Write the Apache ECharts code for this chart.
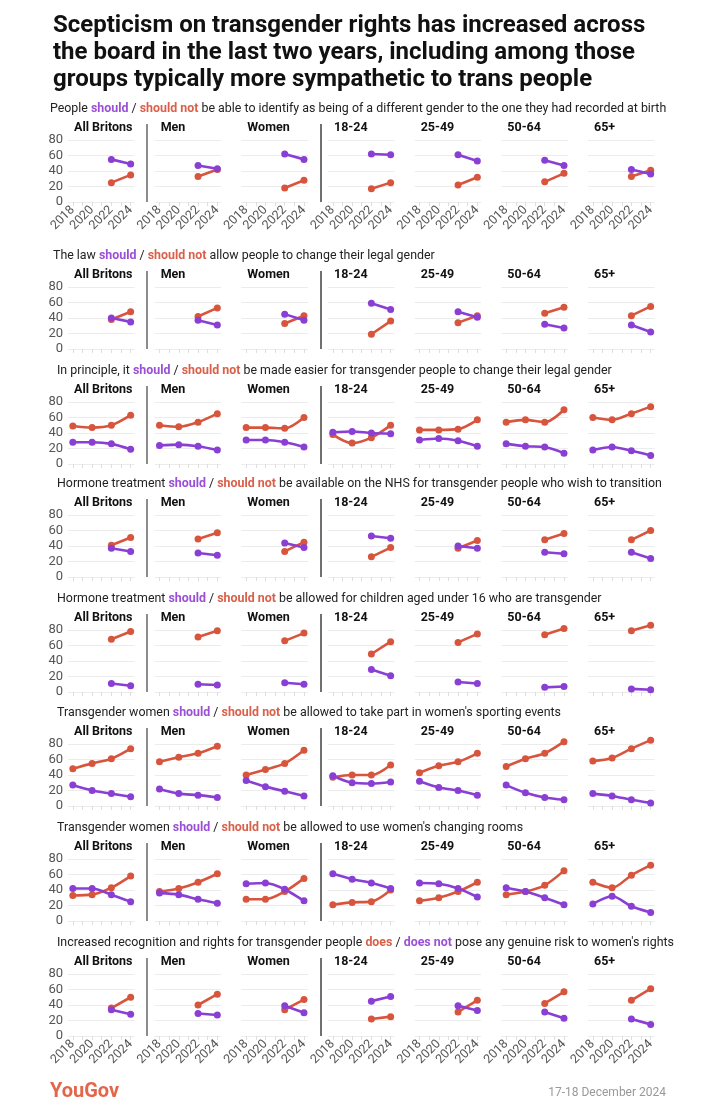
<!DOCTYPE html>
<html>
<head>
<meta charset="utf-8">
<script src="https://cdn.jsdelivr.net/npm/echarts@6/dist/echarts.min.js"></script>
<style>
  html, body { margin: 0; padding: 0; background: #fff; }
  #chart { width: 717px; height: 1112px; }
</style>
</head>
<body>
<div id="chart"></div>
<script>
var groups = ['All Britons', 'Men', 'Women', '18-24', '25-49', '50-64', '65+'];
var yearsShort = [2022, 2024];
var yearsLong = [2018, 2020, 2022, 2024];
var xTickLabels = [2018, 2020, 2022, 2024];
var xTickMarks = [2018, 2019, 2020, 2021, 2022, 2023, 2024];

var questions = [
    'People {p|should} / {o|should not} be able to identify as being of a different gender to the one they had recorded at birth',
    'The law {p|should} / {o|should not} allow people to change their legal gender',
    'In principle, it {p|should} / {o|should not} be made easier for transgender people to change their legal gender',
    'Hormone treatment {p|should} / {o|should not} be available on the NHS for transgender people who wish to transition',
    'Hormone treatment {p|should} / {o|should not} be allowed for children aged under 16 who are transgender',
    'Transgender women {p|should} / {o|should not} be allowed to take part in women\'s sporting events',
    'Transgender women {p|should} / {o|should not} be allowed to use women\'s changing rooms',
    'Increased recognition and rights for transgender people {o|does} / {p|does not} pose any genuine risk to women\'s rights'
];

// one row per group, same order as groups
var identifyShould    = [[55, 49], [47, 43], [62, 55], [62, 61], [61, 53], [54, 47], [42, 36]];
var identifyShouldNot = [[25, 35], [33, 42], [18, 28], [17, 25], [22, 32], [26, 37], [33, 41]];

var lawShould    = [[40, 35], [37, 31], [45, 37], [59, 51], [48, 41], [32, 27], [31, 22]];
var lawShouldNot = [[38, 48], [42, 53], [33, 43], [19, 36], [34, 43], [46, 54], [43, 55]];

var easierShould    = [[28, 28, 26, 19], [24, 25, 23, 18], [31, 31, 28, 22], [41, 42, 40, 39], [31, 33, 30, 23], [26, 23, 22, 14], [18, 22, 17, 11]];
var easierShouldNot = [[49, 47, 50, 63], [50, 48, 54, 65], [47, 47, 46, 60], [38, 27, 34, 50], [44, 44, 45, 57], [54, 57, 54, 70], [60, 57, 65, 74]];

var nhsShould    = [[37, 33], [31, 28], [44, 38], [53, 50], [40, 37], [32, 30], [32, 24]];
var nhsShouldNot = [[41, 51], [49, 57], [33, 45], [26, 38], [37, 47], [48, 56], [48, 60]];

var under16Should    = [[11, 8], [10, 9], [12, 10], [29, 21], [13, 11], [6, 7], [4, 3]];
var under16ShouldNot = [[68, 78], [71, 79], [66, 76], [49, 65], [64, 75], [74, 82], [79, 86]];

var sportShould    = [[27, 20, 16, 12], [22, 16, 14, 11], [33, 25, 19, 13], [39, 30, 29, 31], [32, 24, 20, 14], [27, 17, 11, 8], [16, 13, 8, 4]];
var sportShouldNot = [[48, 55, 61, 74], [57, 63, 68, 77], [40, 47, 55, 72], [37, 40, 40, 53], [43, 52, 57, 68], [51, 61, 68, 83], [58, 62, 74, 85]];

var roomsShould    = [[42, 42, 34, 25], [36, 34, 28, 23], [48, 49, 41, 26], [61, 54, 49, 42], [49, 48, 42, 31], [43, 38, 30, 21], [22, 32, 19, 11]];
var roomsShouldNot = [[33, 34, 43, 58], [38, 42, 50, 61], [28, 28, 38, 55], [21, 24, 25, 40], [26, 30, 38, 50], [34, 38, 46, 65], [50, 43, 59, 72]];

var riskDoesNot = [[34, 28], [29, 27], [39, 30], [45, 51], [39, 33], [31, 23], [22, 15]];
var riskDoes    = [[36, 50], [40, 54], [34, 47], [22, 25], [31, 46], [42, 57], [46, 61]];

var PURPLE = '#8a3fd4';
var RED = '#d8553d';

var rows = [
    { purple: identifyShould, red: identifyShouldNot, years: yearsShort },
    { purple: lawShould, red: lawShouldNot, years: yearsShort },
    { purple: easierShould, red: easierShouldNot, years: yearsLong },
    { purple: nhsShould, red: nhsShouldNot, years: yearsShort },
    { purple: under16Should, red: under16ShouldNot, years: yearsShort },
    { purple: sportShould, red: sportShouldNot, years: yearsLong },
    { purple: roomsShould, red: roomsShouldNot, years: yearsLong },
    { purple: riskDoesNot, red: riskDoes, years: yearsShort }
];

// layout
var rowTop = [140, 287, 402, 515, 630, 744, 859, 974];
var subLeft = [50, 53, 57, 57, 57, 57, 57, 57];
var colStep = 86.67;
var plotLeft = 68;
var plotW = 66.5;
var plotH = 62;
var FONT = 'Roboto, "Noto Sans", sans-serif';

function toPoints(years, vals) {
    return years.map(function (y, i) { return [y, vals[i]]; });
}

var grids = [], xAxes = [], yAxes = [], series = [], titles = [], graphics = [];

titles.push({
    text: 'Scepticism on transgender rights has increased across\nthe board in the last two years, including among those\ngroups typically more sympathetic to trans people',
    left: 53, top: 12, padding: 0,
    textStyle: { fontFamily: FONT, fontWeight: 'bold', fontSize: 24, lineHeight: 27, color: '#111' }
});

rows.forEach(function (row, r) {
    titles.push({
        text: questions[r],
        left: subLeft[r], top: rowTop[r] - 39, padding: 0,
        textStyle: {
            fontFamily: FONT, fontSize: 12.4, fontWeight: 'normal', lineHeight: 16, color: '#222',
            rich: {
                p: { fontFamily: FONT, fontSize: 12.4, lineHeight: 16, fontWeight: 'bold', color: '#9a4fd6' },
                o: { fontFamily: FONT, fontSize: 12.4, lineHeight: 16, fontWeight: 'bold', color: '#d9604a' }
            }
        }
    });
    groups.forEach(function (g, c) {
        var k = grids.length;
        var left = plotLeft + c * colStep;
        var showX = (r === 0 || r === rows.length - 1);
        grids.push({ left: left, top: rowTop[r], width: plotW, height: plotH });
        titles.push({
            text: g, left: left + 6, top: rowTop[r] - 20, padding: 0,
            textStyle: { fontFamily: FONT, fontWeight: 'bold', fontSize: 12.5, lineHeight: 16, color: '#111' }
        });
        xAxes.push({
            gridIndex: k, type: 'value', min: 2017.5, max: 2024.4,
            axisLine: { show: false },
            axisTick: { show: true, customValues: xTickMarks, length: 4, lineStyle: { color: '#dedede' } },
            axisLabel: {
                show: showX, customValues: xTickLabels, rotate: 45, margin: 6,
                fontFamily: FONT, fontSize: 12.5, color: '#555',
                formatter: function (v) { return String(v); }
            },
            splitLine: { show: false }
        });
        yAxes.push({
            gridIndex: k, type: 'value', min: 0, max: 80, interval: 20,
            axisLine: { show: false }, axisTick: { show: false },
            axisLabel: {
                show: c === 0, showMaxLabel: true, showMinLabel: true,
                margin: 5, fontFamily: FONT, fontSize: 13, color: '#555'
            },
            splitLine: { lineStyle: { color: '#ececec', width: 1 } }
        });
        [[row.red[c], RED], [row.purple[c], PURPLE]].forEach(function (s) {
            series.push({
                type: 'line', xAxisIndex: k, yAxisIndex: k,
                data: toPoints(row.years, s[0]),
                smooth: row.years.length > 2 ? 0.3 : false,
                clip: false,
                symbol: 'circle', symbolSize: 7, showSymbol: true,
                lineStyle: { color: s[1], width: 2.6 },
                itemStyle: { color: s[1] },
                emphasis: { disabled: true },
                silent: true
            });
        });
    });
    // separators: after All Britons (grey) and after Women (black)
    graphics.push({
        type: 'line', silent: true,
        shape: { x1: 147, y1: rowTop[r] - 16, x2: 147, y2: rowTop[r] + plotH },
        style: { stroke: '#8c8c8c', lineWidth: 2 }
    });
    graphics.push({
        type: 'line', silent: true,
        shape: { x1: 321, y1: rowTop[r] - 16, x2: 321, y2: rowTop[r] + plotH },
        style: { stroke: '#111', lineWidth: 1.2 }
    });
});

titles.push({
    text: 'YouGov', left: 50, top: 1080, padding: 0,
    textStyle: { fontFamily: FONT, fontWeight: 'bold', fontSize: 20, lineHeight: 24, color: '#e4664a' }
});
titles.push({
    text: '17-18 December 2024', right: 51, top: 1085, padding: 0,
    textStyle: { fontFamily: FONT, fontWeight: 'normal', fontSize: 12, lineHeight: 16, color: '#999' }
});

var myChart = echarts.init(document.getElementById('chart'), null, { renderer: 'canvas' });
var option = {
    backgroundColor: '#fff',
    animation: false,
    title: titles,
    grid: grids,
    xAxis: xAxes,
    yAxis: yAxes,
    series: series,
    graphic: graphics
};
myChart.setOption(option, true);
</script>
</body>
</html>
